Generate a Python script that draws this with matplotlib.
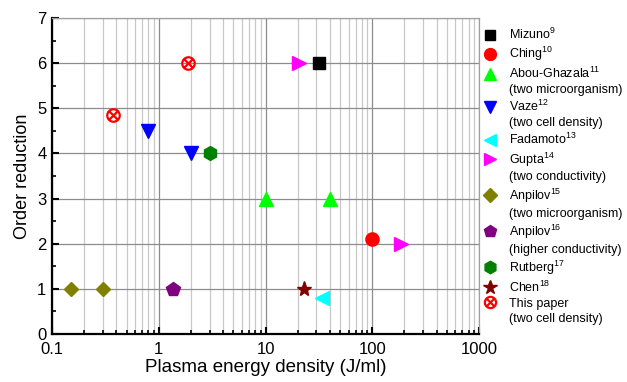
import matplotlib
matplotlib.use("Agg")
import matplotlib.pyplot as plt
from matplotlib.lines import Line2D
from matplotlib.path import Path
from matplotlib.ticker import LogLocator, MultipleLocator, FixedLocator, FixedFormatter, NullFormatter

plt.rcParams['font.family'] = ['Liberation Sans', 'DejaVu Sans']
plt.rcParams['mathtext.fontset'] = 'custom'
plt.rcParams['mathtext.rm'] = 'Liberation Sans'
plt.rcParams['mathtext.it'] = 'Liberation Sans'

# ---- data ----
mizuno_x = [31.5]; mizuno_y = [6.0]
ching_x = [100]; ching_y = [2.1]
abou_x = [10, 40]; abou_y = [3.0, 3.0]
vaze_x = [0.8, 2.0]; vaze_y = [4.5, 4.0]
fadamoto_x = [34]; fadamoto_y = [0.8]
gupta_x = [20.5, 185]; gupta_y = [6.0, 2.0]
anpilov15_x = [0.15, 0.30]; anpilov15_y = [1.0, 1.0]
anpilov16_x = [1.37]; anpilov16_y = [1.0]
rutberg_x = [3.0]; rutberg_y = [4.0]
chen_x = [23]; chen_y = [1.0]
paper_x = [1.87, 0.375]; paper_y = [6.0, 4.85]

x_ticks = [0.1, 1, 10, 100, 1000]
x_tick_labels = ['0.1', '1', '10', '100', '1000']
y_ticks = [0, 1, 2, 3, 4, 5, 6, 7]

# circle with cross marker
k = 0.62
circ_x = Path.make_compound_path(
    Path.unit_circle(),
    Path([(-k, -k), (k, k)], [Path.MOVETO, Path.LINETO]),
    Path([(-k, k), (k, -k)], [Path.MOVETO, Path.LINETO]),
)

series = [
    ("Mizuno$^{9}$", None, mizuno_x, mizuno_y, 's', 'black', 'black', 8),
    ("Ching$^{10}$", None, ching_x, ching_y, 'o', 'red', 'red', 9.5),
    ("Abou-Ghazala$^{11}$", "(two microorganism)", abou_x, abou_y, '^', '#00ff00', '#00ff00', 10),
    ("Vaze$^{12}$", "(two cell density)", vaze_x, vaze_y, 'v', 'blue', 'blue', 10),
    ("Fadamoto$^{13}$", None, fadamoto_x, fadamoto_y, '<', 'cyan', 'cyan', 10),
    ("Gupta$^{14}$", "(two conductivity)", gupta_x, gupta_y, '>', 'magenta', 'magenta', 10),
    ("Anpilov$^{15}$", "(two microorganism)", anpilov15_x, anpilov15_y, 'D', '#808000', '#808000', 7.5),
    ("Anpilov$^{16}$", "(higher conductivity)", anpilov16_x, anpilov16_y, 'p', '#800080', '#800080', 10),
    ("Rutberg$^{17}$", None, rutberg_x, rutberg_y, 'h', '#008000', '#008000', 10),
    ("Chen$^{18}$", None, chen_x, chen_y, '*', '#800000', '#800000', 11),
    ("This paper", "(two cell density)", paper_x, paper_y, circ_x, 'red', 'none', 9),
]

fig = plt.figure(figsize=(6.27, 3.82), dpi=100)
ax = fig.add_axes([0.0829, 0.1257, 0.764 - 0.0829, 0.9529 - 0.1257])
ax.set_xscale('log')
ax.set_xlim(0.1, 1000)
ax.set_ylim(0, 7)

ax.grid(True, which='major', color='#8c8c8c', lw=0.9, zorder=0)
ax.grid(True, which='minor', axis='x', color='#c8c8c8', lw=0.9, zorder=0)

handles = []
labels = []
for lab, lab2, xs, ys, mk, col, fc, ms in series:
    mew = 1.6 if fc == 'none' else 1.0
    ax.plot(xs, ys, linestyle='none', marker=mk, color=col, markersize=ms,
            markerfacecolor=fc, markeredgecolor=col, markeredgewidth=mew,
            zorder=3, clip_on=False)
    handles.append(Line2D([], [], linestyle='none', marker=mk, color=col,
                          markersize=ms * 0.9, markerfacecolor=fc,
                          markeredgecolor=col, markeredgewidth=mew))
    labels.append(lab)
    if lab2:
        handles.append(Line2D([], [], linestyle='none'))
        labels.append(lab2)

ax.xaxis.set_major_locator(FixedLocator(x_ticks))
ax.xaxis.set_major_formatter(FixedFormatter(x_tick_labels))
ax.xaxis.set_minor_locator(LogLocator(base=10, subs=range(2, 10)))
ax.xaxis.set_minor_formatter(NullFormatter())
ax.yaxis.set_major_locator(FixedLocator(y_ticks))
ax.yaxis.set_minor_locator(MultipleLocator(0.5))

ax.tick_params(which='major', direction='in', length=5, width=1.5, labelsize=12,
               top=False, right=False)
ax.tick_params(axis='x', which='major', pad=6)
ax.tick_params(axis='y', which='major', pad=4)
ax.tick_params(which='minor', direction='in', length=3, width=1.2,
               top=False, right=False)

for s in ['left', 'bottom']:
    ax.spines[s].set_linewidth(1.6)
    ax.spines[s].set_color('black')
for s in ['top', 'right']:
    ax.spines[s].set_linewidth(0.9)
    ax.spines[s].set_color('#a0a0a0')

ax.set_xlabel("Plasma energy density (J/ml)", fontsize=13.5, labelpad=1)
ax.set_ylabel("Order reduction", fontsize=13, labelpad=4)

leg = fig.legend(handles, labels, loc='upper left', bbox_to_anchor=(0.768, 0.93),
                 frameon=False, fontsize=9, handlelength=1.3, handletextpad=0.9,
                 labelspacing=0.235, borderpad=0, borderaxespad=0)

fig.savefig("out.png", dpi=100)
